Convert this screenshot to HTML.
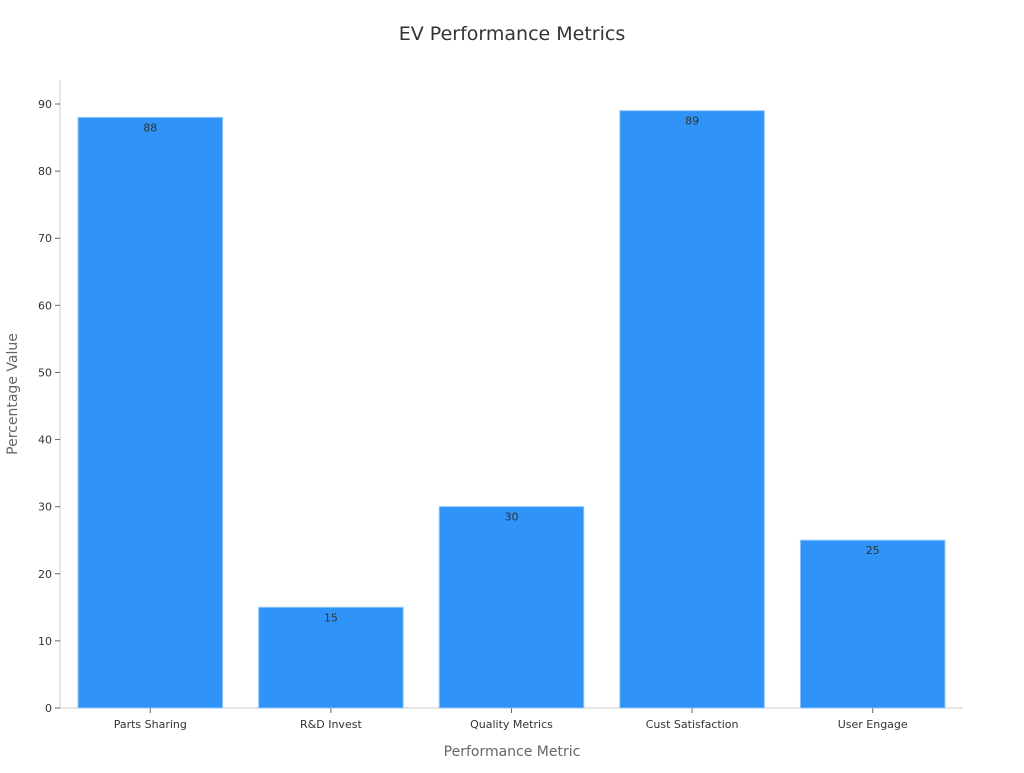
<!DOCTYPE html>
<html><head><meta charset="utf-8"><style>
body{margin:0;background:#fff;}
svg text{font-family:"DejaVu Sans","Liberation Sans",sans-serif;}
</style></head><body>
<svg id="chart" width="1024" height="768" xmlns="http://www.w3.org/2000/svg">
<text x="512" y="40" text-anchor="middle" font-size="19" fill="#333">EV Performance Metrics</text>
<g id="yaxis"></g>
<g id="xaxis"></g>
<g id="bars"></g>
<text transform="translate(17,394) rotate(-90)" text-anchor="middle" font-size="14" fill="#666">Percentage Value</text>
<text x="512" y="756" text-anchor="middle" font-size="14" fill="#666">Performance Metric</text>
</svg>
<script>
const categories=["Parts Sharing","R&D Invest","Quality Metrics","Cust Satisfaction","User Engage"];
const values=[88,15,30,89,25];
const yTicks=[0,10,20,30,40,50,60,70,80,90];
const NS="http://www.w3.org/2000/svg";
const x0=60,x1=963,yBase=708,yTop=104;
const y=v=>yBase-(v/90)*(yBase-yTop);
const step=(x1-x0)/categories.length,bw=step*0.8,off=step*0.1;
function el(t,a,p){const e=document.createElementNS(NS,t);for(const k in a)e.setAttribute(k,a[k]);p.appendChild(e);return e;}
const ya=document.getElementById('yaxis'),xa=document.getElementById('xaxis'),bs=document.getElementById('bars');
const yl=el('line',{x1:x0,x2:x0,y1:80,y2:yBase,stroke:'#ccc'},ya);


yTicks.forEach(t=>{
 const l=el('line',{x1:x0-5,x2:x0,y1:y(t),y2:y(t),stroke:'#666'},ya);
 
 
 const tx=el('text',{x:x0-8,y:y(t)+4,'text-anchor':'end','font-size':11,fill:'#333'},ya);
 
 
 tx.textContent=t;
});
const xl=el('line',{x1:x0,x2:x1,y1:yBase,y2:yBase,stroke:'#ccc'},xa);


categories.forEach((c,i)=>{
 const bx=x0+i*step+off,cx=bx+bw/2;
 const r=el('rect',{x:bx,y:y(values[i]),width:bw,height:yBase-y(values[i]),fill:'#2f93f7',stroke:'#8cc4fa','stroke-width':1},bs);
 
 
 const v=el('text',{x:cx,y:y(values[i])+14,'text-anchor':'middle','font-size':11,fill:'#333'},bs);
 
 
 v.textContent=values[i];
 const tk=el('line',{x1:cx,x2:cx,y1:yBase,y2:yBase+5,stroke:'#666'},xa);
 
 
 const lt=el('text',{x:cx,y:yBase+20,'text-anchor':'middle','font-size':11,fill:'#333'},xa);
 
 
 lt.textContent=c;
});
</script>
</body></html>
